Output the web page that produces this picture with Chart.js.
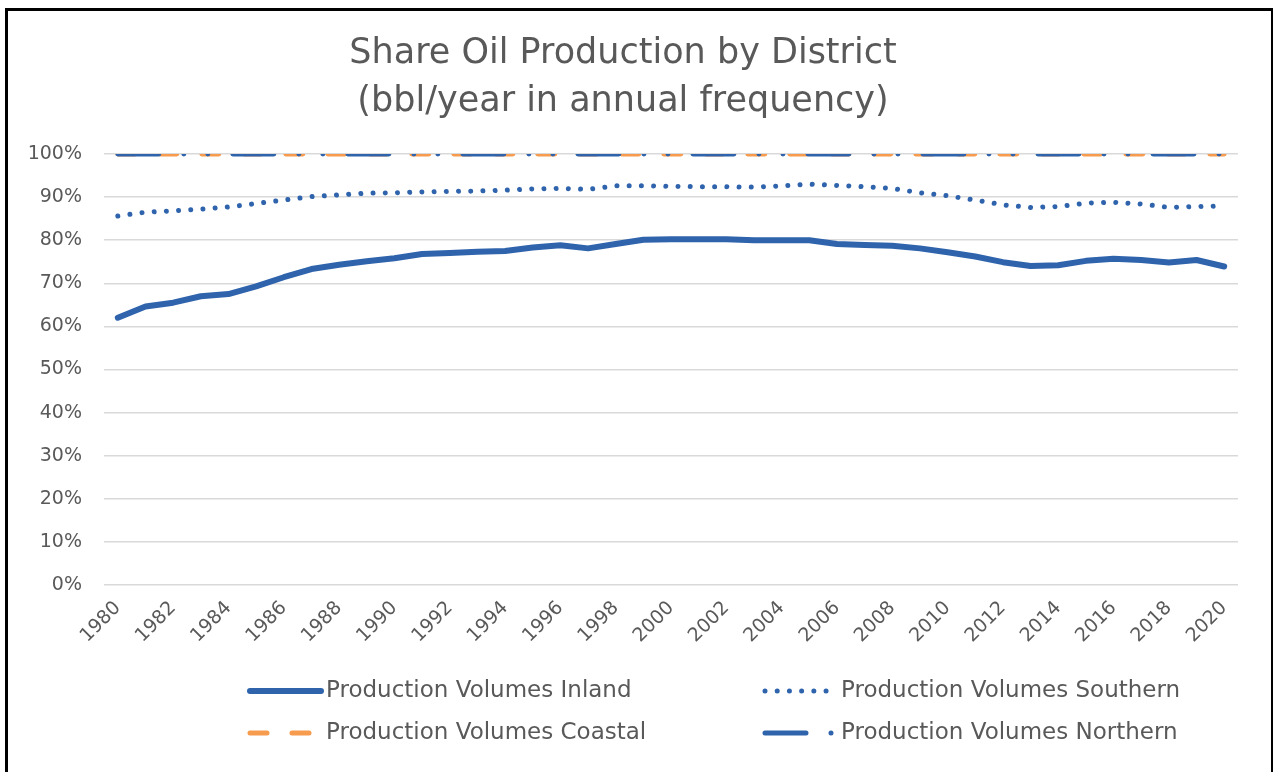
<!DOCTYPE html>
<html>
<head>
<meta charset="utf-8">
<script src="https://cdn.jsdelivr.net/npm/chart.js@4.4.1/dist/chart.umd.min.js"></script>
<style>
  html, body { margin: 0; padding: 0; background: #fff; overflow: hidden; }
  #frame {
    position: absolute; left: 5px; top: 8px; width: 1263px; height: 800px;
    border: 3px solid #000; border-bottom: none;
  }
  #wrap { position: absolute; left: 8px; top: 10px; width: 1262px; height: 762px; }
</style>
</head>
<body>
<div id="frame"></div>
<div id="wrap"><canvas id="shareChart"></canvas></div>
<script>
const years = ['1980','1981','1982','1983','1984','1985','1986','1987','1988','1989',
  '1990','1991','1992','1993','1994','1995','1996','1997','1998','1999',
  '2000','2001','2002','2003','2004','2005','2006','2007','2008','2009',
  '2010','2011','2012','2013','2014','2015','2016','2017','2018','2019','2020'];

const inland = [62.0, 64.6, 65.5, 67.0, 67.5, 69.3, 71.4, 73.3, 74.3, 75.1,
  75.8, 76.8, 77.0, 77.3, 77.5, 78.3, 78.8, 78.1, 79.1, 80.1,
  80.2, 80.2, 80.2, 80.0, 80.0, 80.0, 79.1, 78.9, 78.7, 78.1,
  77.2, 76.2, 74.9, 74.0, 74.2, 75.2, 75.7, 75.4, 74.8, 75.4, 73.9];

const southern = [85.6, 86.5, 86.8, 87.2, 87.7, 88.5, 89.3, 90.1, 90.5, 90.9,
  91.0, 91.2, 91.3, 91.4, 91.6, 91.9, 92.0, 91.8, 92.6, 92.6,
  92.5, 92.4, 92.4, 92.3, 92.6, 93.0, 92.7, 92.4, 92.0, 91.0,
  90.3, 89.3, 88.2, 87.6, 87.8, 88.6, 88.8, 88.4, 87.6, 87.8, 87.9];

const coastal = [100, 100, 100, 100, 100, 100, 100, 100, 100, 100,
  100, 100, 100, 100, 100, 100, 100, 100, 100, 100,
  100, 100, 100, 100, 100, 100, 100, 100, 100, 100,
  100, 100, 100, 100, 100, 100, 100, 100, 100, 100, 100];

const northern = [100, 100, 100, 100, 100, 100, 100, 100, 100, 100,
  100, 100, 100, 100, 100, 100, 100, 100, 100, 100,
  100, 100, 100, 100, 100, 100, 100, 100, 100, 100,
  100, 100, 100, 100, 100, 100, 100, 100, 100, 100, 100];

const yTicks = [0, 10, 20, 30, 40, 50, 60, 70, 80, 90, 100];

const blue = '#2F64AD';
const orange = '#F79B4E';
const textColor = '#595959';
const fontFamily = '"DejaVu Sans", sans-serif';

// legend in two columns like the original, drawn under the axis
const gridLegend = {
  id: 'gridLegend',
  afterDraw(chart) {
    const ctx = chart.ctx;
    const find = name => chart.data.datasets.find(d => d.label === name);
    const slots = [
      ['Production Volumes Inland', 239, 681],
      ['Production Volumes Southern', 754, 681],
      ['Production Volumes Coastal', 239, 723],
      ['Production Volumes Northern', 754, 723]
    ];
    ctx.save();
    slots.forEach(([name, x, y]) => {
      const ds = find(name);
      ctx.beginPath();
      ctx.strokeStyle = ds.borderColor;
      ctx.lineWidth = ds.borderWidth;
      ctx.lineCap = 'round';
      ctx.setLineDash(ds.borderDash || []);
      ctx.moveTo(x + 3, y);
      ctx.lineTo(x + 74, y);
      ctx.stroke();
      ctx.setLineDash([]);
      ctx.fillStyle = textColor;
      ctx.font = '23px ' + fontFamily;
      ctx.textBaseline = 'middle';
      ctx.textAlign = 'left';
      ctx.fillText(name, x + 79, y);
    });
    ctx.restore();
  }
};

new Chart(document.getElementById('shareChart').getContext('2d'), {
  type: 'line',
  data: {
    labels: years,
    datasets: [{
      label: 'Production Volumes Inland',
      data: inland,
      borderColor: blue,
      borderWidth: 6,
      borderCapStyle: 'round',
      borderJoinStyle: 'round',
      pointRadius: 0,
      tension: 0,
      order: 0
    }, {
      label: 'Production Volumes Southern',
      data: southern,
      borderColor: blue,
      borderWidth: 5,
      borderDash: [0.01, 12.2],
      borderCapStyle: 'round',
      pointRadius: 0,
      tension: 0,
      order: 1
    }, {
      label: 'Production Volumes Coastal',
      data: coastal,
      borderColor: orange,
      borderWidth: 5,
      borderDash: [17, 25],
      borderCapStyle: 'round',
      pointRadius: 0,
      order: 3
    }, {
      label: 'Production Volumes Northern',
      data: northern,
      borderColor: blue,
      borderWidth: 5,
      borderDash: [41, 25, 0.01, 24, 0.01, 25],
      borderCapStyle: 'round',
      pointRadius: 0,
      order: 2
    }]
  },
  options: {
    responsive: true,
    maintainAspectRatio: false,
    animation: false,
    layout: {
      padding: { left: 0, right: 32, top: 0, bottom: 0 }
    },
    plugins: {
      legend: { display: false },
      tooltip: { enabled: false },
      title: {
        display: true,
        text: ['Share Oil Production by District', '(bbl/year in annual frequency)'],
        color: textColor,
        font: { family: fontFamily, size: 35, weight: 'normal', lineHeight: 1.371 },
        padding: { top: 20, bottom: 28 }
      }
    },
    scales: {
      x: {
        offset: true,
        grid: { display: false, drawTicks: false },
        border: { display: false },
        ticks: {
          autoSkip: false,
          minRotation: 45,
          maxRotation: 45,
          padding: 12,
          color: textColor,
          font: { family: fontFamily, size: 19 },
          callback: function(value, index) {
            return index % 2 === 0 ? years[index] : '';
          }
        },
        afterFit: function(scale) { scale.height = 187; }
      },
      y: {
        min: 0,
        max: 100,
        afterBuildTicks: function(scale) {
          scale.ticks = yTicks.map(v => ({ value: v }));
        },
        grid: { color: '#D9D9D9', lineWidth: 1.5, drawTicks: false },
        border: { display: false },
        ticks: {
          padding: 22,
          color: textColor,
          font: { family: fontFamily, size: 19 },
          callback: function(value) { return value + '%'; }
        },
        afterFit: function(scale) { scale.width = 96; }
      }
    }
  },
  plugins: [gridLegend]
});
</script>
</body>
</html>
